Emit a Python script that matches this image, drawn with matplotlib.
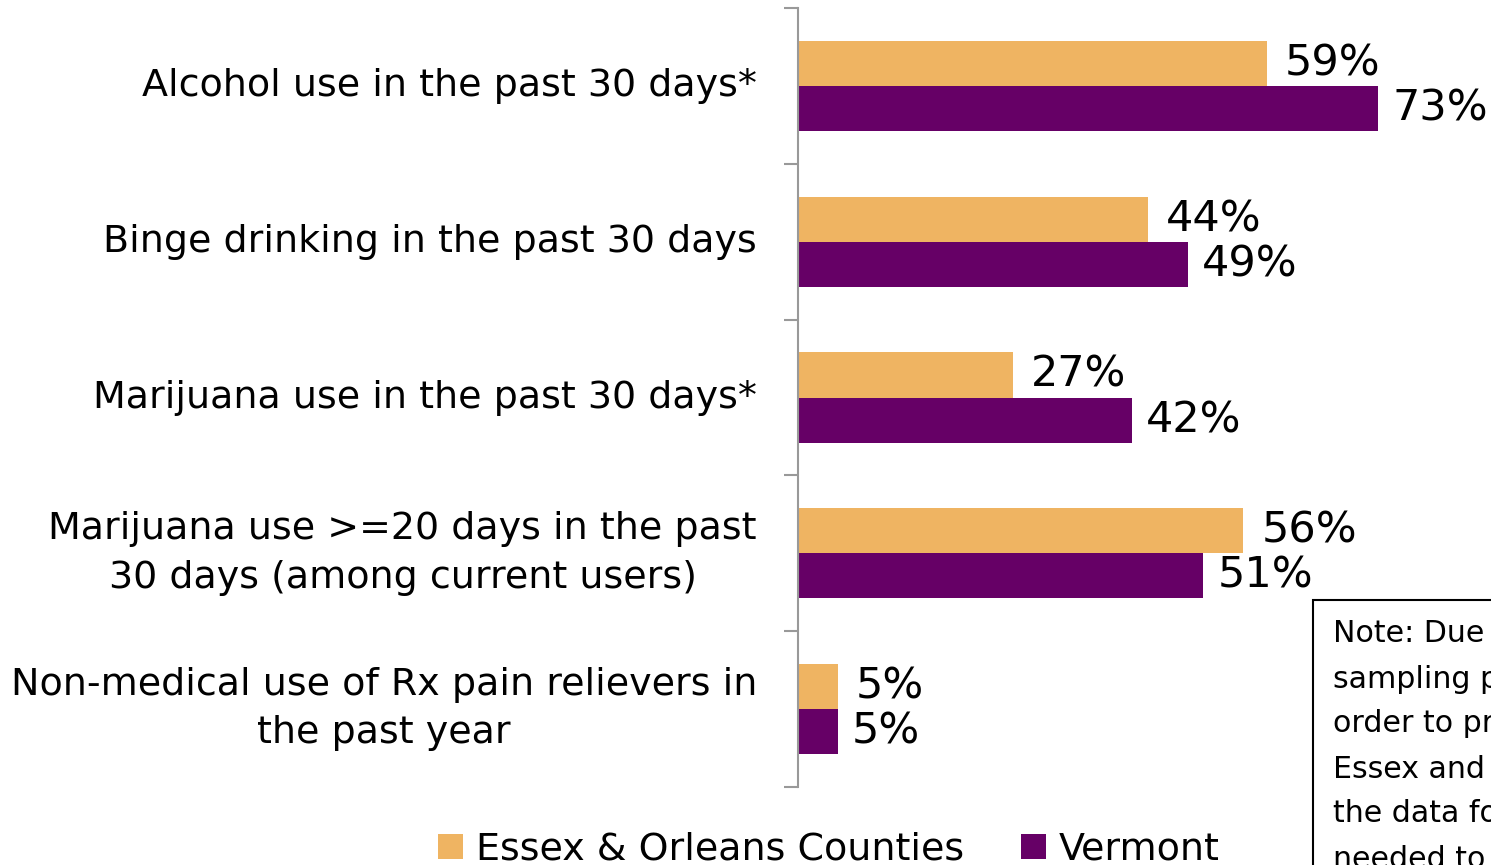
import matplotlib
matplotlib.use("Agg")
import matplotlib.pyplot as plt
from matplotlib.patches import Rectangle
from matplotlib.font_manager import FontProperties
from matplotlib.textpath import TextPath

categories = [
    "Alcohol use in the past 30 days*",
    "Binge drinking in the past 30 days",
    "Marijuana use in the past 30 days*",
    "Marijuana use >=20 days in the past\n30 days (among current users)",
    "Non-medical use of Rx pain relievers in\nthe past year",
]
essex_orleans = [59, 44, 27, 56, 5]
vermont = [73, 49, 42, 51, 5]
series_names = ["Essex & Orleans Counties", "Vermont"]
note_lines = ["Note: Due to changes in", "sampling procedures, in",
              "order to produce estimates for", "Essex and Orleans Counties,",
              "the data for multiple years", "needed to be combined."]

ORANGE = "#EFB462"
PURPLE = "#660066"
FAMILY = "DejaVu Sans"
plt.rcParams["font.family"] = [FAMILY]


def fit_size(text, target_px, dpi=100):
    # font size (pt) so that the text is target_px wide
    w = TextPath((0, 0), text, size=100, prop=FontProperties(family=FAMILY)).get_extents().width
    return target_px / (w / 100) * 72 / dpi


W, H = 1491, 865
fig = plt.figure(figsize=(W / 100, H / 100), dpi=100)
ax = fig.add_axes([798 / W, 1 - 787 / H, (W - 798) / W, (787 - 8) / H])

cat_fs = fit_size("Alcohol use in the past 30 days*", 614)
val_fs = fit_size("59%", 90)
leg_fs = fit_size("Essex & Orleans Counties", 482)
note_fs = fit_size("Note: Due", 147)

n = len(categories)
ys = list(range(n))
bh = 0.29
ax.barh([y - bh / 2 for y in ys], essex_orleans, height=bh, color=ORANGE, label=series_names[0])
ax.barh([y + bh / 2 for y in ys], vermont, height=bh, color=PURPLE, label=series_names[1])

for y, v in zip(ys, essex_orleans):
    ax.annotate(f"{v}%", (v, y - bh / 2), xytext=(13, 0), textcoords="offset points",
                va="center", ha="left", fontsize=val_fs, color="black")
for y, v in zip(ys, vermont):
    ax.annotate(f"{v}%", (v, y + bh / 2), xytext=(10, 0), textcoords="offset points",
                va="center", ha="left", fontsize=val_fs, color="black")

ax.set_ylim(n - 0.5, -0.5)
ax.set_xlim(0, (W - 798) / 7.95)
ax.set_yticks([y - 0.5 for y in ys] + [n - 0.5])
ax.set_yticklabels([])
ax.tick_params(axis="y", length=10, width=1.5, color="#999999", direction="out")
for y, c in zip(ys, categories):
    t = ax.text(-41 / (W - 798), y, c, transform=ax.get_yaxis_transform(), ha="right",
                va="center", fontsize=cat_fs, linespacing=1.45)
    t.set_multialignment("center")
ax.set_xticks([])
for s in ["top", "right", "bottom"]:
    ax.spines[s].set_visible(False)
ax.spines["left"].set_color("#999999")
ax.spines["left"].set_linewidth(1.5)

fig.legend(loc="center left", bbox_to_anchor=(438 / W, 1 - 850 / H), ncol=2, frameon=False,
           fontsize=leg_fs, handlelength=0.65, handleheight=0.65, handletextpad=0.35,
           columnspacing=1.5, borderpad=0, borderaxespad=0)

# note box (cut off at the figure edge, as in the original)
fig.patches.append(Rectangle((1313 / W, -0.1), 0.2, 1 - 600 / H + 0.1, transform=fig.transFigure,
                             fill=False, edgecolor="black", linewidth=1.5))
for i, line in enumerate(note_lines):
    fig.text(1333 / W, 1 - (634 + 45 * i) / H, line, fontsize=note_fs, va="center", ha="left")

fig.savefig("out.png", dpi=100)
